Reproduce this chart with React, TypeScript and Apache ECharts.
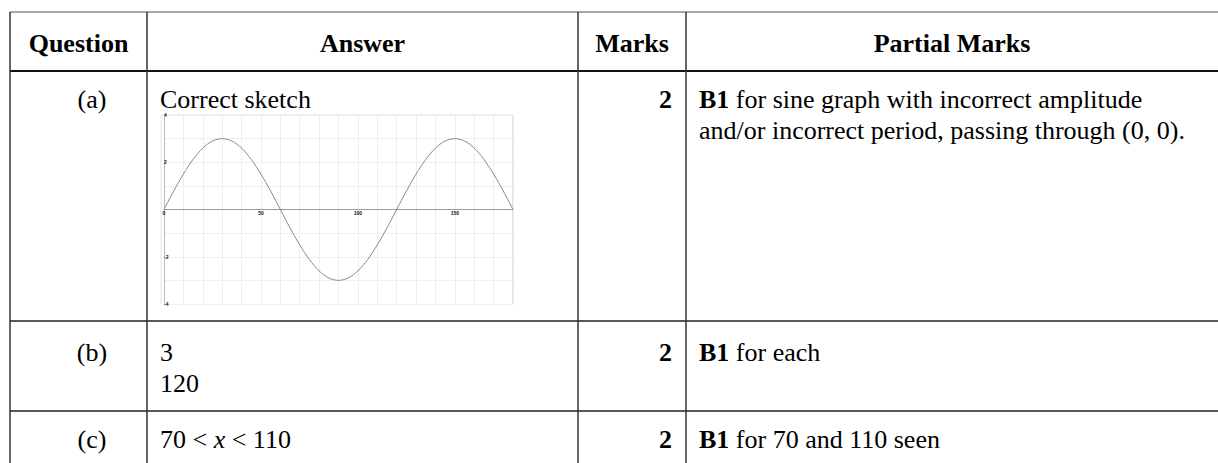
import React, { useEffect, useRef } from "react";
import * as echarts from "echarts";

// ---------- data ----------
const headers = ["Question", "Answer", "Marks", "Partial Marks"];
const questions = ["(a)", "(b)", "(c)"];
const answerLines = [["Correct sketch"], ["3", "120"], ["70 < {i|x} < 110"]];
const marks = ["2", "2", "2"];
const partialLines = [
  ["{b|B1} for sine graph with incorrect amplitude", "and/or incorrect period, passing through (0, 0)."],
  ["{b|B1} for each"],
  ["{b|B1} for 70 and 110 seen"],
];
// sketch of y = 3 sin 3x, values every 5 degrees
const sketchX = [
  0, 5, 10, 15, 20, 25, 30, 35, 40, 45, 50, 55, 60, 65, 70, 75, 80, 85, 90,
  95, 100, 105, 110, 115, 120, 125, 130, 135, 140, 145, 150, 155, 160, 165, 170, 175, 180,
];
const sketchY = [
  0, 0.78, 1.5, 2.12, 2.6, 2.9, 3, 2.9, 2.6, 2.12, 1.5, 0.78, 0, -0.78, -1.5, -2.12, -2.6, -2.9, -3,
  -2.9, -2.6, -2.12, -1.5, -0.78, 0, 0.78, 1.5, 2.12, 2.6, 2.9, 3, 2.9, 2.6, 2.12, 1.5, 0.78, 0,
];
const xTickLabels = [0, 50, 100, 150];
const yTickLabels = [-4, -2, 2, 4];

// ---------- layout ----------
const W = 1218;
const H = 463;
const FAM = '"Liberation Serif", "Times New Roman", serif';
const FS = 26;
const colX = [10, 147, 578, 686];
const tableTop = 12;
const headerBottom = 71;
const rowLines = [321, 411];
const headerCenters = [78.5, 362.5, 632, 952];
const rowTextY = [99, 352, 439];
const lineGap = 31;

function regular(size = FS) {
  return `${size}px ${FAM}`;
}
function bold(size = FS) {
  return `bold ${size}px ${FAM}`;
}

function buildGraphic() {
  const els: any[] = [];
  const lineStyle = (w: number, c: string) => ({ stroke: c, lineWidth: w });
  // horizontal rules
  els.push({ type: "line", shape: { x1: colX[0], y1: tableTop, x2: W, y2: tableTop }, style: lineStyle(1.2, "#555") });
  els.push({ type: "line", shape: { x1: colX[0], y1: headerBottom, x2: W, y2: headerBottom }, style: lineStyle(2, "#111") });
  rowLines.forEach((y) =>
    els.push({ type: "line", shape: { x1: colX[0], y1: y, x2: W, y2: y }, style: lineStyle(1.5, "#222") })
  );
  // vertical rules
  colX.forEach((x) =>
    els.push({ type: "line", shape: { x1: x, y1: tableTop, x2: x, y2: H }, style: lineStyle(1.5, "#333") })
  );
  // headers
  headers.forEach((h, i) =>
    els.push({
      type: "text",
      style: { text: h, x: headerCenters[i], y: 43, font: bold(), fill: "#000", textAlign: "center", textVerticalAlign: "middle" },
    })
  );
  const rich = {
    b: { font: bold(), fill: "#000" },
    i: { font: `italic ${FS}px ${FAM}`, fill: "#000" },
  };
  questions.forEach((q, r) => {
    const y = rowTextY[r];
    els.push({
      type: "text",
      style: { text: q, x: 92, y, font: regular(), fill: "#000", textAlign: "center", textVerticalAlign: "middle" },
    });
    answerLines[r].forEach((t, k) =>
      els.push({
        type: "text",
        style: { text: t, x: 160, y: y + k * lineGap, font: regular(), fill: "#000", textAlign: "left", textVerticalAlign: "middle", rich },
      })
    );
    els.push({
      type: "text",
      style: { text: marks[r], x: 672, y, font: bold(), fill: "#000", textAlign: "right", textVerticalAlign: "middle" },
    });
    partialLines[r].forEach((t, k) =>
      els.push({
        type: "text",
        style: { text: t, x: 699, y: y + k * lineGap, font: regular(), fill: "#000", textAlign: "left", textVerticalAlign: "middle", rich },
      })
    );
  });
  // sketch frame edges
  els.push({ type: "line", shape: { x1: 161, y1: 115, x2: 513, y2: 115 }, style: lineStyle(1, "#e2e2e2") });
  els.push({ type: "line", shape: { x1: 513, y1: 115, x2: 513, y2: 304 }, style: lineStyle(1, "#c8c8c8") });
  els.push({ type: "line", shape: { x1: 161, y1: 115, x2: 161, y2: 304 }, style: lineStyle(1, "#e6e6e6") });
  return els;
}

export default function App() {
  const ref = useRef<HTMLDivElement>(null);
  useEffect(() => {
    if (!ref.current) return;
    const chart = echarts.init(ref.current, undefined, { renderer: "svg" });
    chart.setOption({
      animation: false,
      backgroundColor: "#fff",
      grid: { left: 164, top: 115, width: 349, height: 189, containLabel: false, outerBoundsMode: "none" },
      xAxis: [
        {
          // grid lines
          type: "value",
          min: 0,
          max: 180,
          interval: 10,
          axisLine: { show: false },
          axisTick: { show: false },
          axisLabel: { show: false },
          splitLine: { show: true, lineStyle: { color: "#eeeeee", width: 1 } },
        },
        {
          // axis through y = 0 with its tiny labels
          type: "value",
          position: "bottom",
          offset: -94.5,
          min: 0,
          max: 180,
          interval: 10,
          axisLine: { show: true, onZero: false, lineStyle: { color: "#9a9a9a", width: 1 } },
          axisTick: { show: false },
          splitLine: { show: false },
          axisLabel: {
            fontSize: 5,
            fontWeight: "bold",
            color: "#111",
            margin: 1,
            formatter: (v: number) => (xTickLabels.indexOf(v) >= 0 ? String(v) : ""),
          },
        },
      ],
      yAxis: {
        type: "value",
        min: -4,
        max: 4,
        interval: 1,
        axisLine: { show: true, onZero: false, lineStyle: { color: "#bdbdbd", width: 1 } },
        axisTick: { show: false },
        splitLine: { show: true, lineStyle: { color: "#eeeeee", width: 1 } },
        axisLabel: {
          fontSize: 5,
          fontWeight: "bold",
          color: "#111",
          margin: 0,
          inside: true,
          formatter: (v: number) => (yTickLabels.indexOf(v) >= 0 ? String(v) : ""),
        },
      },
      series: [
        {
          type: "line",
          xAxisIndex: 0,
          data: sketchX.map((x, i) => [x, sketchY[i]]),
          smooth: 0.3,
          showSymbol: false,
          clip: false,
          lineStyle: { color: "#8a8a8a", width: 1 },
        },
      ],
      graphic: buildGraphic(),
    });
    return () => chart.dispose();
  }, []);
  return <div ref={ref} style={{ position: "absolute", left: 0, top: 0, width: W, height: H }} />;
}
